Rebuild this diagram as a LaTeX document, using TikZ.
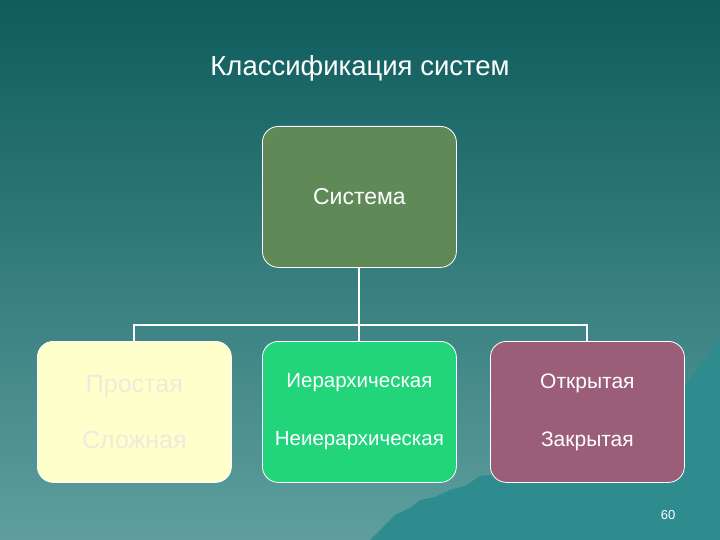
\documentclass[tikz,border=0pt]{standalone}
\usepackage{fontspec}
\setmainfont{Liberation Sans}
\definecolor{bgtop}{HTML}{0E5C5C}
\definecolor{bgbot}{HTML}{5E9E9E}
\definecolor{mount}{HTML}{2F8C8E}
\definecolor{sysc}{HTML}{5F8A58}
\definecolor{yel}{HTML}{FFFFCC}
\definecolor{yeltext}{HTML}{ECECDC}
\definecolor{grn}{HTML}{22D47A}
\definecolor{pink}{HTML}{9B5E78}
\begin{document}
\begin{tikzpicture}[x=1pt,y=-1pt,
  box/.style={draw=white,line width=0.8pt,rounded corners=16pt,minimum width=194pt,minimum height=141pt,text=white,font=\fontsize{20.5}{24}\selectfont,align=center,anchor=north west,inner sep=0pt},
  conn/.style={draw=white,line width=2pt}]
\shade[top color=bgtop,bottom color=bgbot] (0,0) rectangle (720,540);
\useasboundingbox (0,0) rectangle (720,540);
\fill[mount] (370,540) -- (385,525) -- (395,515) -- (410,508) -- (420,500) -- (435,497) -- (450,490) -- (465,486) -- (480,476) -- (500,474) -- (520,468) -- (540,466) -- (560,460) -- (575,468) -- (590,460) -- (600,452) -- (620,440) -- (640,420) -- (655,410) -- (670,395) -- (685,385) -- (700,365) -- (720,340) -- (720,540) -- cycle;
\node[font=\fontsize{27.5}{32}\selectfont,text=white] (title) at (360,68) {Классификация систем};
\node[box,fill=sysc,font=\fontsize{23}{28}\selectfont] (sys) at (262,126) {Система};
\node[box,fill=yel,text=yeltext,font=\fontsize{25}{30}\selectfont] (a) at (37,341) {Простая\\[26pt]Сложная};
\node[box,fill=grn] (b) at (262,341) {Иерархическая\\[34pt]Неиерархическая};
\node[box,fill=pink,font=\fontsize{21}{25}\selectfont] (c) at (490,341) {Открытая\\[33pt]Закрытая};
\coordinate (h) at (360,325);
\draw[conn] (sys.south) -- (b.north);
\draw[conn] (a.north) |- (h) -| (c.north);
\node[font=\fontsize{13}{15}\selectfont,text=white] (pg) at (668,515) {60};
\end{tikzpicture}
\end{document}
